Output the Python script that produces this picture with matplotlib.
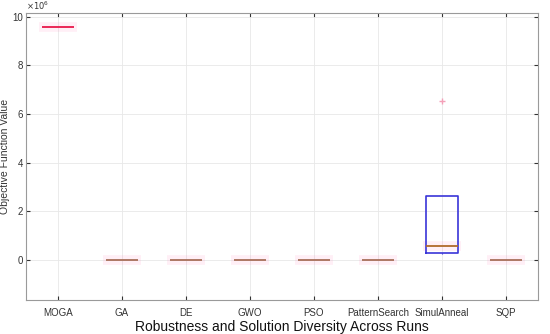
import matplotlib
matplotlib.use('Agg')
import matplotlib.pyplot as plt

plt.rcParams['font.family'] = ['Liberation Sans', 'DejaVu Sans']

# summary stats (units of 1e6)
algos = ['MOGA', 'GA', 'DE', 'GWO', 'PSO', 'PatternSearch', 'SimulAnneal', 'SQP']
q1 = [9.58, 0.0, 0.0, 0.0, 0.0, 0.0, 0.29, 0.0]
med = [9.58, 0.0, 0.0, 0.0, 0.0, 0.0, 0.55, 0.0]
q3 = [9.58, 0.0, 0.0, 0.0, 0.0, 0.0, 2.63, 0.0]
whislo = [9.58, 0.0, 0.0, 0.0, 0.0, 0.0, 0.24, 0.0]
whishi = [9.58, 0.0, 0.0, 0.0, 0.0, 0.0, 2.63, 0.0]
fliers = [[], [], [], [], [], [], [6.53], []]
med_colors = ['#e8174a'] + ['#a8705a'] * 5 + ['#b06a2a', '#a8705a']

scale = 1e6
stats = []
for i, name in enumerate(algos):
    stats.append(dict(label=name, med=med[i] * scale, q1=q1[i] * scale,
                      q3=q3[i] * scale, whislo=whislo[i] * scale,
                      whishi=whishi[i] * scale,
                      fliers=[v * scale for v in fliers[i]]))

fig = plt.figure(figsize=(5.5, 3.34), dpi=100)
ax = fig.add_axes([0.047, 0.102, 0.931, 0.859])
pos = list(range(1, len(algos) + 1))

# faint pink halo behind the medians
ax.hlines([m * scale for m in med], [p - 0.3 for p in pos],
          [p + 0.3 for p in pos], colors='#ff66aa', lw=7, alpha=0.1, zorder=1)

bp = ax.bxp(stats, positions=pos, widths=0.5, showcaps=False,
            boxprops=dict(color='#3a35d8', lw=1.2),
            whiskerprops=dict(color='#3a35d8', lw=0.8, ls='--'),
            medianprops=dict(lw=1.3),
            flierprops=dict(marker='+', markeredgecolor='#f4a0b8',
                            markersize=4, lw=0))
for line, c in zip(bp['medians'], med_colors):
    line.set_color(c)
for i, box in enumerate(bp['boxes']):
    if q3[i] == q1[i]:
        box.set_visible(False)

ax.set_xlim(0.5, 8.5)
ax.set_ylim(-1.65e6, 10.15e6)
yt = [0, 2, 4, 6, 8, 10]
ax.set_yticks([v * scale for v in yt])
ax.set_yticklabels([str(v) for v in yt])
ax.set_xticks(pos)
ax.set_xticklabels(algos)
ax.text(0.0, 1.003, r'$\times10^6$', transform=ax.transAxes, fontsize=6,
        color='#333333', va='bottom', ha='left')

ax.grid(True, color='#e8e8e8', lw=0.6)
ax.set_axisbelow(True)
ax.tick_params(direction='in', length=3, labelsize=7, colors='#333333',
               top=True, right=True)
ax.tick_params(axis='x', pad=6)
ax.tick_params(axis='y', pad=2)
for s in ax.spines.values():
    s.set_color('#9a9a9a')
    s.set_linewidth(0.8)

ax.set_xlabel('Robustness and Solution Diversity Across Runs', fontsize=10,
              color='#111111', labelpad=1)
ax.set_ylabel('Objective Function Value', fontsize=7.5, color='#333333',
              labelpad=2)

fig.savefig('out.png', dpi=100)
